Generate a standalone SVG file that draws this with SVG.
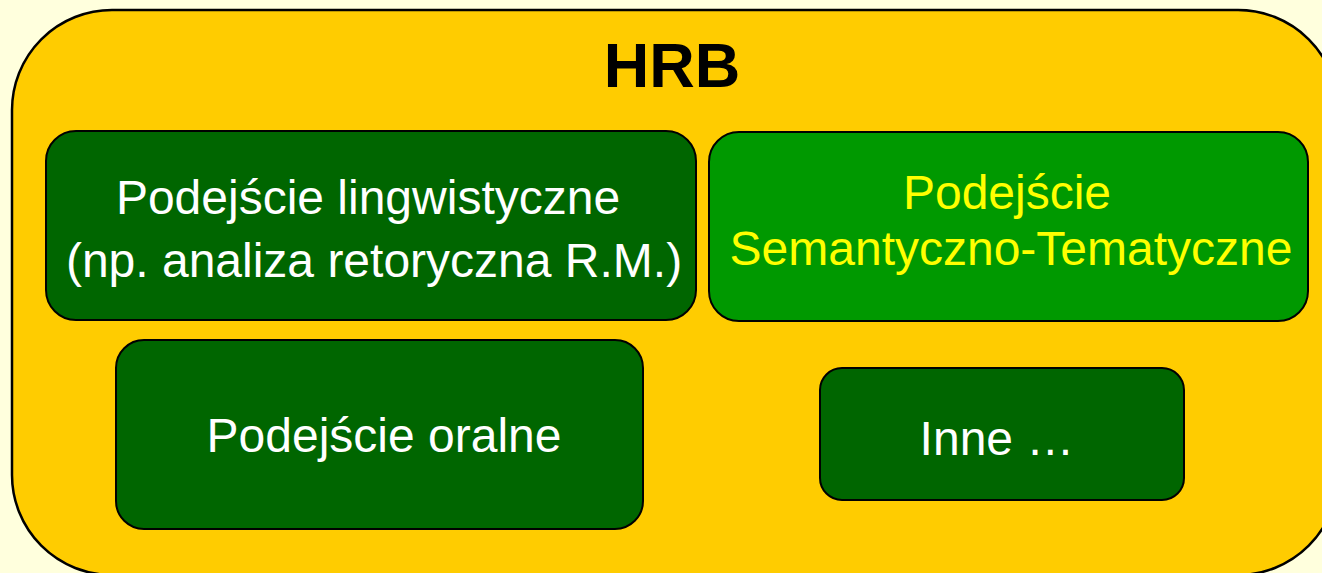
<svg xmlns="http://www.w3.org/2000/svg" width="1322" height="573" viewBox="0 0 1322 573">
<style>
.box{stroke:#000;stroke-width:2}
.dk{fill:#006600}
.lt{fill:#009900}
.t{font-family:"Liberation Sans",Arial,sans-serif;font-size:48px;text-anchor:middle;fill:#fff}
.y{fill:#ffff00}
</style>
<rect width="1322" height="573" fill="#ffffdd"/>
<g id="hrb">
<rect x="12" y="10" width="1326" height="565" rx="100" ry="100" fill="#ffcc00" stroke="#000" stroke-width="2.5"/>
<text x="672" y="87" style="font-family:'Liberation Sans',Arial,sans-serif;font-size:63px;font-weight:bold;text-anchor:middle" fill="#000">HRB</text>
</g>
<g id="lingwistyczne">
<rect class="box dk" x="46" y="131" width="650" height="189" rx="30"/>
<text class="t" x="368" y="214">Podejście lingwistyczne</text>
<text class="t" x="374" y="277">(np. analiza retoryczna R.M.)</text>
</g>
<g id="semantyczno">
<rect class="box lt" x="709" y="132" width="599" height="189" rx="30"/>
<text class="t y" x="1007" y="209">Podejście</text>
<text class="t y" x="1011" y="265">Semantyczno-Tematyczne</text>
</g>
<g id="oralne">
<rect class="box dk" x="116" y="340" width="527" height="189" rx="28"/>
<text class="t" x="384" y="452">Podejście oralne</text>
</g>
<g id="inne">
<rect class="box dk" x="820" y="368" width="364" height="132" rx="22"/>
<text class="t" x="997" y="455">Inne …</text>
</g>
<g id="connectors"></g>
</svg>
